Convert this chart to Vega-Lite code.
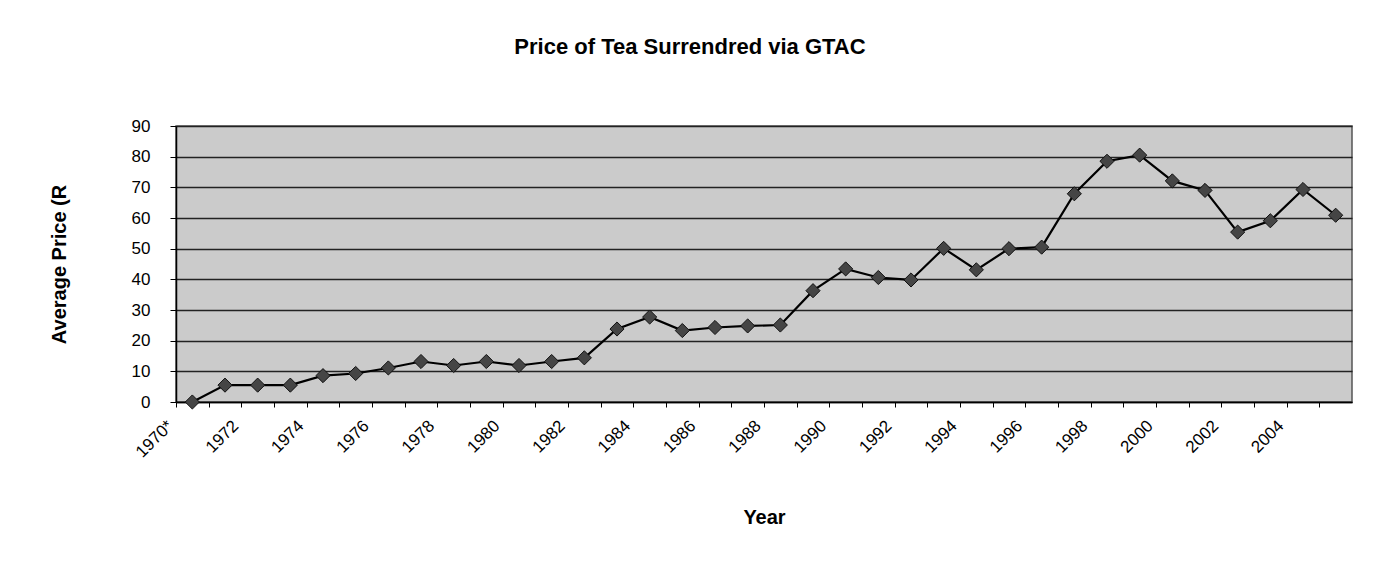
{
  "$schema": "https://vega.github.io/schema/vega-lite/v6.json",
  "width": 1176,
  "height": 276,
  "autosize": "none",
  "padding": {"left": 176, "top": 126, "right": 21, "bottom": 170},
  "background": "white",
  "title": {
    "text": "Price of Tea Surrendred via GTAC",
    "font": "Liberation Sans",
    "fontSize": 22,
    "fontWeight": "bold",
    "color": "black",
    "anchor": "middle",
    "offset": 58,
    "dx": -74
  },
  "data": {
    "values": [
      {"Year": "1970*", "Price": 0},
      {"Year": "1971", "Price": 5.5},
      {"Year": "1972", "Price": 5.5},
      {"Year": "1973", "Price": 5.5},
      {"Year": "1974", "Price": 8.6},
      {"Year": "1975", "Price": 9.3},
      {"Year": "1976", "Price": 11.1},
      {"Year": "1977", "Price": 13.2},
      {"Year": "1978", "Price": 11.9},
      {"Year": "1979", "Price": 13.2},
      {"Year": "1980", "Price": 11.9},
      {"Year": "1981", "Price": 13.2},
      {"Year": "1982", "Price": 14.4},
      {"Year": "1983", "Price": 23.8},
      {"Year": "1984", "Price": 27.7},
      {"Year": "1985", "Price": 23.3},
      {"Year": "1986", "Price": 24.3},
      {"Year": "1987", "Price": 24.8},
      {"Year": "1988", "Price": 25.1},
      {"Year": "1989", "Price": 36.3},
      {"Year": "1990", "Price": 43.4},
      {"Year": "1991", "Price": 40.6},
      {"Year": "1992", "Price": 39.8},
      {"Year": "1993", "Price": 50.1},
      {"Year": "1994", "Price": 43.1},
      {"Year": "1995", "Price": 50.0},
      {"Year": "1996", "Price": 50.5},
      {"Year": "1997", "Price": 67.9},
      {"Year": "1998", "Price": 78.5},
      {"Year": "1999", "Price": 80.5},
      {"Year": "2000", "Price": 72.1},
      {"Year": "2001", "Price": 69.0},
      {"Year": "2002", "Price": 55.4},
      {"Year": "2003", "Price": 59.1},
      {"Year": "2004", "Price": 69.3},
      {"Year": "2005", "Price": 60.9}
    ]
  },
  "encoding": {
    "x": {
      "field": "Year",
      "type": "ordinal",
      "sort": null,
      "scale": {"type": "point", "padding": 0.5},
      "axis": {
        "title": "Year",
        "titleFont": "Liberation Sans",
        "titleFontSize": 20,
        "titleFontWeight": "bold",
        "titleColor": "black",
        "titlePadding": 47,
        "labelFont": "Liberation Sans",
        "labelFontSize": 17,
        "labelColor": "black",
        "labelAngle": -45,
        "labelAlign": "right",
        "labelBaseline": "middle",
        "labelPadding": 16,
        "tickOffset": -16.33,
        "labelOffset": -6,
        "labelOverlap": false,
        "labelExpr": "toNumber(slice(datum.value, 0, 4)) % 2 == 0 ? datum.value : ''",
        "tickSize": 5,
        "tickColor": "black",
        "domainColor": "black",
        "domainWidth": 1.5,
        "grid": false
      }
    },
    "y": {
      "field": "Price",
      "type": "quantitative",
      "scale": {"domain": [0, 90], "nice": false},
      "axis": {
        "title": "Average Price (R",
        "titleFont": "Liberation Sans",
        "titleFontSize": 20,
        "titleFontWeight": "bold",
        "titleColor": "black",
        "titlePadding": 62,
        "values": [0, 10, 20, 30, 40, 50, 60, 70, 80, 90],
        "labelFont": "Liberation Sans",
        "labelFontSize": 17,
        "labelColor": "black",
        "labelPadding": 20,
        "tickSize": 6,
        "tickColor": "black",
        "domainColor": "black",
        "domainWidth": 1.5,
        "grid": true,
        "gridColor": "#222222",
        "gridWidth": 1.3
      }
    }
  },
  "layer": [
    {
      "mark": {"type": "line", "color": "black", "strokeWidth": 2.2}
    },
    {
      "mark": {
        "type": "point",
        "shape": "diamond",
        "filled": true,
        "size": 200,
        "fill": "#454545",
        "stroke": "#111111",
        "strokeWidth": 1,
        "opacity": 1
      }
    }
  ],
  "config": {
    "view": {"fill": "#cbcbcb", "stroke": "#555555", "strokeWidth": 1.5}
  }
}
